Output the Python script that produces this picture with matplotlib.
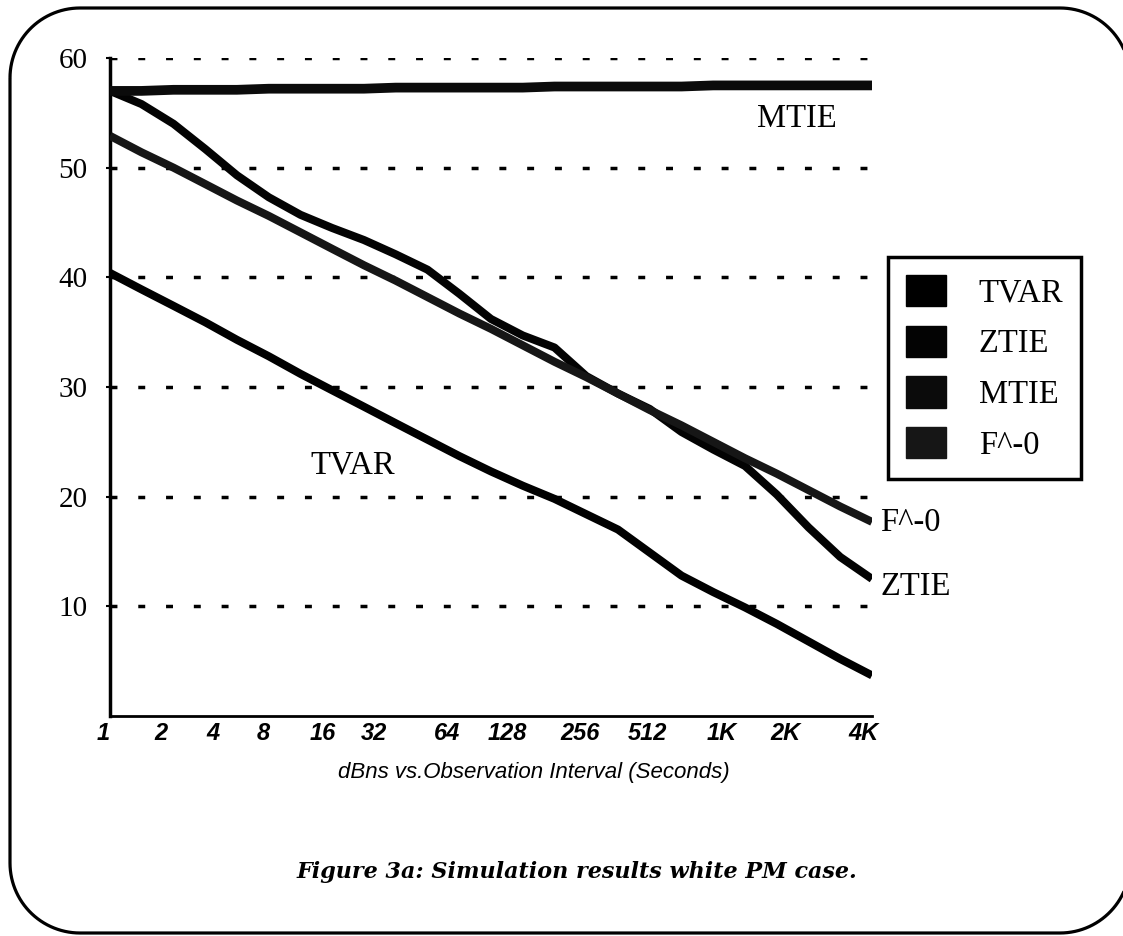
import numpy as np
import matplotlib
matplotlib.use("Agg")
import matplotlib.pyplot as plt
from matplotlib.patches import Patch, Polygon
from matplotlib.transforms import ScaledTranslation

# observation interval (seconds), half octave steps
tau = [1, 1.41, 2, 2.83, 4, 5.66, 8, 11.3, 16, 22.6, 32, 45.3, 64, 90.5,
       128, 181, 256, 362, 512, 724, 1024, 1448, 2048, 2896, 4096]

tvar = [40.4, 38.9, 37.4, 35.9, 34.3, 32.8, 31.2, 29.7, 28.2, 26.7, 25.2, 23.7,
        22.3, 21.0, 19.8, 18.4, 17.0, 14.9, 12.8, 11.3, 9.9, 8.4, 6.8, 5.2, 3.7]
ztie = [57.0, 55.8, 54.0, 51.7, 49.3, 47.3, 45.7, 44.5, 43.4, 42.1, 40.7, 38.5,
        36.2, 34.7, 33.6, 31.0, 29.4, 28.0, 25.9, 24.3, 22.8, 20.2, 17.2, 14.5, 12.5]
mtie = [57.0, 57.0, 57.1, 57.1, 57.1, 57.2, 57.2, 57.2, 57.2, 57.3, 57.3, 57.3,
        57.3, 57.3, 57.4, 57.4, 57.4, 57.4, 57.4, 57.5, 57.5, 57.5, 57.5, 57.5, 57.5]
f0 = [52.9, 51.4, 50.0, 48.5, 47.0, 45.6, 44.1, 42.6, 41.1, 39.7, 38.2, 36.7,
      35.3, 33.8, 32.3, 30.9, 29.4, 27.9, 26.5, 25.0, 23.5, 22.1, 20.6, 19.1, 17.7]

tick_pos = [1, 2, 4, 8, 16, 32, 64, 128, 256, 512, 1024, 2048, 4096]
tick_lab = ["1", "2", "4", "8", "16", "32", "64", "128", "256", "512", "1K", "2K", "4K"]
yticks = [10, 20, 30, 40, 50, 60]

names = ["TVAR", "ZTIE", "MTIE", "F^-0"]
colors = ["#000000", "#030303", "#0b0b0b", "#161616"]
widths = [5.8, 5.8, 7.0, 5.8]

# the scanned original typed its x labels a bit left of the true octave positions (pixels)
label_shift = [-7, -13, -24, -37, -41, -54, -44, -47, -38, -34, -23, -23, -9]

serif = "Liberation Serif"
sans = "Liberation Sans"

fig = plt.figure(figsize=(11.23, 9.36), dpi=100)

# rounded frame of the scanned page (pixel coordinates)
bg = fig.add_axes([0, 0, 1, 1])
bg.set_xlim(0, 1123)
bg.set_ylim(936, 0)
bg.axis("off")
x0, x1, y0, y1, r = 10, 1130, 8, 933, 70
t = np.linspace(0, np.pi / 2, 30)
fx = np.concatenate([x0 + r - r * np.cos(t), x1 - r + r * np.sin(t),
                     x1 - r + r * np.cos(t), x0 + r - r * np.sin(t)])
fy = np.concatenate([y0 + r - r * np.sin(t), y0 + r - r * np.cos(t),
                     y1 - r + r * np.sin(t), y1 - r + r * np.cos(t)])
bg.add_patch(Polygon(np.column_stack([fx, fy]), closed=True, fill=False,
                     ec="black", lw=2.3, clip_on=False))

ax = fig.add_axes([110/1123, 1-716/936, 762/1123, 658/936])
ax.patch.set_alpha(0)

for y, c, w in zip([tvar, ztie, mtie, f0], colors, widths):
    ax.plot(tau, y, color=c, lw=w, solid_capstyle="butt", zorder=3)

ax.set_xscale("log", base=2)
ax.set_xlim(1, 4096)
ax.set_ylim(0, 60)
ax.set_xticks(tick_pos)
ax.set_xticklabels(tick_lab, fontfamily=sans, fontsize=17, fontweight="bold", style="italic")
ax.minorticks_off()
ax.set_yticks(yticks)
ax.set_yticklabels([str(v) for v in yticks], fontfamily=serif, fontsize=21)
ax.tick_params(axis="x", length=0, pad=4)
ax.tick_params(axis="y", length=3, width=1.5, pad=13)
for lab, dx in zip(ax.get_xticklabels(), label_shift):
    lab.set_transform(lab.get_transform() + ScaledTranslation(dx / 100, 0, fig.dpi_scale_trans))

ax.yaxis.grid(True, color="black", linestyle=(0, (2, 6)), lw=2.5)
ax.set_axisbelow(True)
for s in ["top", "right"]:
    ax.spines[s].set_visible(False)
ax.spines["left"].set_linewidth(2.5)
ax.spines["bottom"].set_linewidth(2)

ax.set_xlabel("dBns vs.Observation Interval (Seconds)", fontfamily=sans,
              fontsize=16, style="italic")
ax.xaxis.set_label_coords((534 - 110) / 762, (716 - 762) / 658)

# curve labels
ax.text(1168, 54.5, "MTIE", fontfamily=serif, fontsize=23.5, va="center")
ax.text(8.9, 22.9, "TVAR", fontfamily=serif, fontsize=23.5, va="center")
ax.text(4480, 17.6, "F^-0", fontfamily=serif, fontsize=23.5, va="center", clip_on=False)
ax.text(4480, 11.8, "ZTIE", fontfamily=serif, fontsize=23.5, va="center", clip_on=False)

handles = [Patch(facecolor=c, edgecolor=c) for c in colors]
leg = fig.legend(handles, names, loc="upper left", bbox_to_anchor=(888/1123, 1-257/936),
                 borderaxespad=0, prop={"family": serif, "size": 23.5},
                 handlelength=1.23, handleheight=1.1, handletextpad=1.0,
                 labelspacing=0.52, borderpad=0.55, fancybox=False, framealpha=1)
leg.get_frame().set_edgecolor("black")
leg.get_frame().set_linewidth(2.5)

fig.text(577/1123, 1-872/936, "Figure 3a: Simulation results white PM case.",
         fontfamily="DejaVu Serif", fontsize=16, fontweight="bold", style="italic",
         ha="center", va="center")

fig.savefig("out.png", dpi=100)
